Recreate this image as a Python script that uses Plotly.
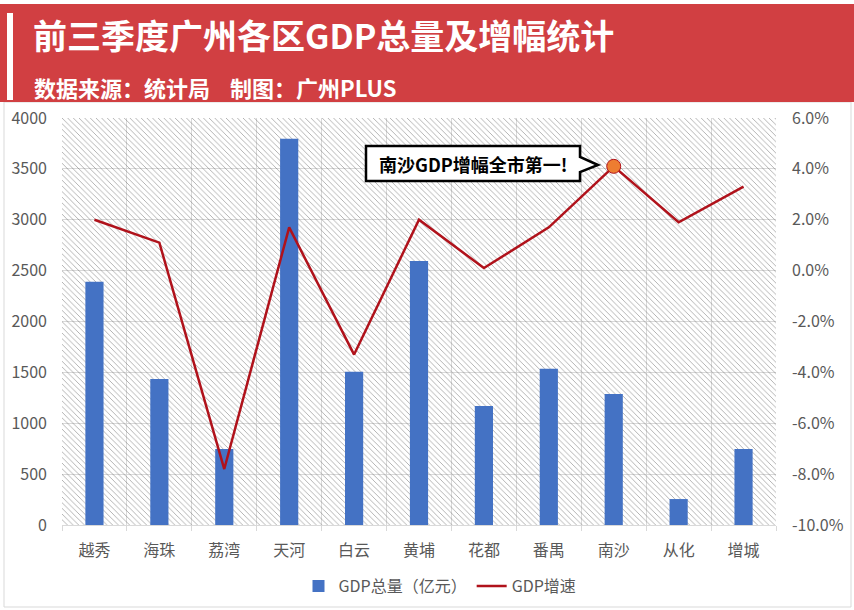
import plotly.graph_objects as go

# ---- data ----
districts = ["越秀", "海珠", "荔湾", "天河", "白云", "黄埔", "花都", "番禺", "南沙", "从化", "增城"]
gdp_total = [2390, 1435, 747, 3795, 1505, 2595, 1170, 1535, 1287, 255, 747]
gdp_growth = [2.0, 1.1, -7.8, 1.7, -3.3, 2.0, 0.1, 1.7, 4.1, 1.9, 3.3]

y_left_max = 4000
growth_ticks = [-10, -8, -6, -4, -2, 0, 2, 4, 6]
title_text = "前三季度广州各区GDP总量及增幅统计"
subtitle_text = "数据来源：统计局\u00a0\u00a0\u00a0\u00a0制图：广州PLUS"
callout_text = "南沙GDP增幅全市第一!"
highlight = "南沙"

FONT = "Noto Sans CJK SC"
W_PX, H_PX = 854, 610
L, R, T, B = 62, 776, 118, 525


def px(x):
    return (x - L) / (R - L)


def py(y):
    return (B - y) / (B - T)


fig = go.Figure()

# hatched plot background
fig.add_trace(go.Bar(
    x=districts, y=[y_left_max] * len(districts), width=1,
    marker=dict(color="#D8D8D8", line=dict(width=0),
                pattern=dict(shape="\\", size=4, solidity=0.2, bgcolor="rgba(0,0,0,0)")),
    hoverinfo="skip", showlegend=False,
))

fig.add_trace(go.Bar(
    x=districts, y=gdp_total, name="GDP总量（亿元）", width=0.28,
    marker=dict(color="#4472C4", line=dict(width=0)),
))

fig.add_trace(go.Scatter(
    x=districts, y=gdp_growth, name="GDP增速", yaxis="y2", mode="lines",
    line=dict(color="#B0121B", width=2.5),
))

hi = districts.index(highlight)
fig.add_trace(go.Scatter(
    x=[districts[hi]], y=[gdp_growth[hi]], yaxis="y2", mode="markers",
    marker=dict(color="#ED7D31", size=14, line=dict(color="#B0121B", width=1)),
    showlegend=False, hoverinfo="skip",
))

# callout bubble outline (pixel points -> paper coords)
bubble_px = [(366, 146), (580, 146), (580, 157), (598, 165), (580, 172), (580, 181), (366, 181)]
bubble_path = "M " + " L ".join(f"{px(x):.5f},{py(y):.5f}" for x, y in bubble_px) + " Z"

shapes = [
    dict(type="rect", xref="paper", yref="paper", x0=px(0), x1=px(854), y0=py(102), y1=py(4),
         fillcolor="#D13F42", line=dict(width=0), layer="above"),
    dict(type="rect", xref="paper", yref="paper", x0=px(7), x1=px(13), y0=py(100), y1=py(13),
         fillcolor="white", line=dict(width=0), layer="above"),
    dict(type="rect", xref="paper", yref="paper", x0=px(4), x1=px(851), y0=py(607), y1=py(102),
         fillcolor="rgba(0,0,0,0)", line=dict(color="#D9D9D9", width=1), layer="below"),
    dict(type="path", xref="paper", yref="paper", path=bubble_path,
         fillcolor="white", line=dict(color="black", width=2.5), layer="above"),
]

annotations = [
    dict(xref="paper", yref="paper", x=px(31), y=py(34), xanchor="left", yanchor="middle",
         text="<b>" + title_text + "</b>", showarrow=False,
         font=dict(family=FONT, size=34, color="white")),
    dict(xref="paper", yref="paper", x=px(32), y=py(87), xanchor="left", yanchor="middle",
         text="<b>" + subtitle_text + "</b>", showarrow=False,
         font=dict(family=FONT, size=22, color="white")),
    dict(xref="paper", yref="paper", x=px(473), y=py(163.5), xanchor="center", yanchor="middle",
         text="<b>" + callout_text + "</b>", showarrow=False,
         font=dict(family=FONT, size=18, color="black")),
]

fig.update_layout(
    width=W_PX, height=H_PX,
    margin=dict(l=L, r=W_PX - R, t=T, b=H_PX - B, autoexpand=False),
    paper_bgcolor="white", plot_bgcolor="white",
    barmode="overlay",
    font=dict(family=FONT, size=16, color="#595959"),
    shapes=shapes, annotations=annotations,
    xaxis=dict(type="category", tickson="boundaries", showgrid=True, gridcolor="#D9D9D9",
               ticks="outside", ticklen=5, tickcolor="#D9D9D9", showline=True,
               linecolor="#D9D9D9", tickfont=dict(size=16, color="#595959"),
               ticklabelstandoff=11, automargin=False,
               range=[-0.5, len(districts) - 0.5]),
    yaxis=dict(range=[0, y_left_max], dtick=500, showgrid=True, gridcolor="#D9D9D9",
               zeroline=False, tickfont=dict(size=16, color="#595959"),
               ticklabelstandoff=14, automargin=False),
    yaxis2=dict(overlaying="y", side="right", range=[growth_ticks[0], growth_ticks[-1]],
                tickvals=growth_ticks, ticktext=[f"{v:.1f}%" for v in growth_ticks],
                showgrid=False, zeroline=False,
                tickfont=dict(size=16, color="#595959"), ticklabelstandoff=15,
                automargin=False),
    legend=dict(orientation="h", x=px(440), y=py(586), xanchor="center", yanchor="middle",
                font=dict(size=16, color="#595959"), traceorder="normal"),
)

fig.write_html("out.html")
